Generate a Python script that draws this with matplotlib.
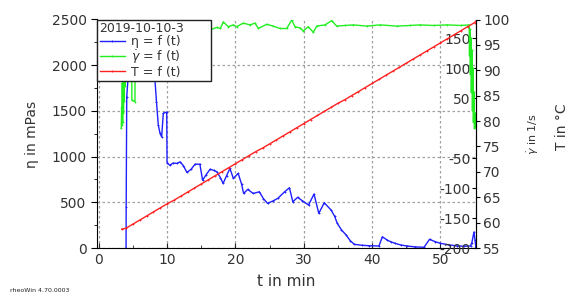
import matplotlib.pyplot as plt
from matplotlib.ticker import MultipleLocator

plt.rcParams['font.family'] = ['DejaVu Sans']
plt.rcParams['axes.unicode_minus'] = False
plt.rcParams['mathtext.fontset'] = 'dejavusans'

# eta = f(t), mPas
t_eta = [4.0, 4.02, 4.1, 4.4, 4.9, 5.4, 5.75, 6.04, 6.19, 6.77, 7.3, 7.8, 8.13, 8.45,
         8.72, 8.97, 9.21, 9.45, 9.95, 10.0, 10.4, 10.9, 11.4, 11.9, 12.4, 12.9, 13.5,
         14.1, 14.8, 15.2, 15.7, 16.3, 16.8, 17.3, 17.8, 18.2, 18.7, 19.2, 19.7, 20.4,
         20.9, 21.2, 21.8, 22.6, 23.5, 24.1, 24.7, 25.5, 26.2, 27.2, 27.9, 28.4, 29.1,
         29.8, 30.7, 31.5, 32.2, 33.0, 34.0, 34.5, 34.9, 35.5, 36.2, 36.8, 37.4, 38.5,
         39.5, 41.0, 41.5, 42.2, 42.7, 43.4, 44.2, 45.1, 46.3, 47.6, 48.4, 49.2, 50.0,
         51.2, 52.4, 53.5, 54.4, 54.6, 54.9, 55.05, 55.2]
eta = [0, 452, 1650, 1980, 2080, 1990, 1870, 1870, 1910, 1935, 2010, 1980, 1950, 1600,
       1343, 1256, 1215, 1474, 1488, 935, 905, 930, 925, 942, 900, 827, 860,
       917, 917, 742, 800, 862, 850, 833, 770, 706, 790, 870, 761, 816,
       700, 597, 641, 597, 615, 540, 488, 515, 543, 615, 659, 506, 554,
       517, 470, 590, 379, 495, 415, 350, 270, 200, 142, 80, 40, 30,
       25, 22, 123, 87, 69, 50, 33, 22, 12, 8, 95, 70, 51,
       35, 22, 20, 22, 60, 175, 90, 0]

# shear rate = f(t), 1/s
t_gd = [3.3, 3.35, 3.4, 3.45, 3.5, 3.58, 3.62, 3.7, 3.75, 3.82, 3.88, 3.95, 4.0, 4.1,
        4.18, 4.3, 4.55, 4.8, 4.85, 5.3, 5.35, 6.5, 8.0, 10.0, 12.0, 14.0, 16.5, 17.26,
        17.8, 18.23, 18.96, 19.69, 20.19, 21.15, 22.14, 22.87, 23.35, 24.58, 25.54,
        26.52, 27.5, 28.24, 28.72, 29.45, 29.93, 30.66, 31.4, 31.9, 33.1, 34.09, 34.82,
        36.0, 37.25, 39.21, 41.16, 43.6, 45.5, 47.0, 49.0, 51.0, 53.0, 54.2, 54.25,
        54.3, 54.38, 54.45, 54.52, 54.6, 54.68, 54.75, 54.82, 54.9, 54.98, 55.05, 55.15]
gd = [0, 35, 5, 75, 10, 105, 25, 130, 45, 150, 70, 165, 100, 178,
      140, 176, 172, 170, 47, 44, 168, 170, 172, 169, 171, 170, 164.5, 167.8,
      166, 177, 169, 172, 169, 175, 172, 175, 166, 173, 170,
      166, 166, 180, 169, 167, 162, 169, 159.5, 170, 172, 179, 170,
      171, 172, 170, 172, 170, 171, 172, 171, 172, 171, 172, 120,
      165, 90, 150, 60, 130, 30, 100, 10, 60, 0, 25, 0]

# T = f(t), degC
t_T = [3.35, 4, 5, 6, 7, 8, 9, 10, 11, 12, 13, 14, 15, 16, 17, 18, 19, 20, 21, 22, 23,
       24, 25, 26, 27, 28, 29, 30, 31, 32, 33, 34, 35, 36, 37, 38, 39, 40, 41, 42, 43,
       44, 45, 46, 47, 48, 49, 50, 51, 52, 53, 54, 55, 55.2]
T = [58.7, 58.9, 59.7, 60.5, 61.3, 62.1, 62.9, 63.7, 64.4, 65.2, 66.0, 66.8, 67.6, 68.4,
     69.2, 70.0, 70.8, 71.6, 72.4, 73.2, 74.0, 74.7, 75.5, 76.3, 77.1, 77.9, 78.7, 79.5,
     80.3, 81.1, 81.9, 82.7, 83.5, 84.2, 85.0, 85.8, 86.6, 87.4, 88.2, 89.0, 89.8, 90.6,
     91.4, 92.2, 93.0, 93.8, 94.6, 95.4, 96.2, 97.0, 97.8, 98.6, 99.4, 99.7]

txt = '#333333'

fig = plt.figure(figsize=(5.69, 2.97), dpi=100)
ax = fig.add_axes([97/569, 1-248/297, 379/569, 228.5/297])
ax2 = ax.twinx()
ax3 = ax.twinx()

l1, = ax.plot(t_eta, eta, color='#1f1fff', lw=1, marker='+', ms=2, mew=0.6)
l2, = ax2.plot(t_gd, gd, color='#22ee22', lw=1, marker='+', ms=2, mew=0.6)
l3, = ax3.plot(t_T, T, color='#ff2020', lw=1, marker='+', ms=2, mew=0.6)

ax.set_xlim(-0.25, 55.2)
ax.set_ylim(0, 2500)
ax.xaxis.set_major_locator(MultipleLocator(10))
ax.xaxis.set_minor_locator(MultipleLocator(5))
ax.yaxis.set_major_locator(MultipleLocator(500))
ax.yaxis.set_minor_locator(MultipleLocator(250))
ax.grid(True, which='major', color='#a0a0a0', linestyle=(0, (2, 2)), lw=0.9)
ax.tick_params(axis='x', which='both', direction='in', labelsize=10, colors='#222', labelcolor=txt)
ax.tick_params(axis='y', which='major', direction='out', length=4, labelsize=10, labelcolor=txt)
ax.tick_params(axis='y', which='minor', direction='out', length=2.5)
for s in ['top', 'right']:
    ax.spines[s].set_visible(False)
ax.set_xlabel('t in min', fontsize=11, color=txt, labelpad=5)

# shear rate axis: labels inside, left of the right spine
ax2.set_ylim(-200, 181)
ax2.set_yticks([-200, -150, -100, -50, 50, 100, 150])
ax2.yaxis.tick_left()
ax2.spines['left'].set_position(('axes', 1.0))
for s in ['top', 'right', 'bottom']:
    ax2.spines[s].set_visible(False)
ax2.tick_params(axis='y', direction='out', length=3, pad=1, labelsize=10, labelcolor=txt)

ax3.set_ylim(55, 100)
ax3.yaxis.set_major_locator(MultipleLocator(5))
for s in ['top', 'left', 'bottom']:
    ax3.spines[s].set_visible(False)
ax3.tick_params(axis='y', direction='out', length=3, pad=2, labelsize=10, labelcolor=txt)

fig.text(32/569, 1-134/297, '\u03b7 in mPas', rotation=90, fontsize=10, color=txt,
         ha='center', va='center')
fig.text(533/569, 1-134/297, r'$\dot{\gamma}$ in 1/s', rotation=90, fontsize=8, color=txt,
         ha='center', va='center')
fig.text(562/569, 1-127/297, 'T in \u00b0C', rotation=90, fontsize=10, color=txt,
         ha='center', va='center')
fig.text(10/569, 1-291/297, 'rheoWin 4.70.0003', fontsize=4.5, color='#222', va='center')

leg = ax3.legend([l1, l2, l3], ['\u03b7 = f (t)', r'$\dot{\gamma}$ = f (t)', 'T = f (t)'],
                 title='2019-10-10-3', loc='upper left', bbox_to_anchor=(0, 1, 0.301, 0),
                 mode='expand', fontsize=9, title_fontsize=9, fancybox=False,
                 edgecolor='#222222', framealpha=1, borderaxespad=0, borderpad=0.2,
                 labelspacing=0.0, handlelength=2.0, handletextpad=0.5, alignment='left')
leg.get_frame().set_linewidth(1.0)
plt.setp(leg.get_texts(), color=txt)
leg.get_title().set_color(txt)

fig.savefig('out.png', dpi=100)
